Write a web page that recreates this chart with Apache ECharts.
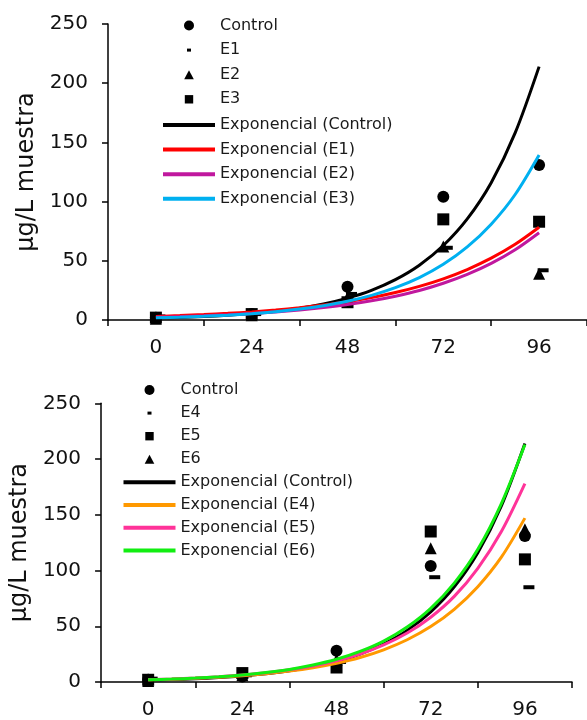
<!DOCTYPE html>
<html>
<head>
<meta charset="utf-8">
<script src="https://cdn.jsdelivr.net/npm/echarts@6/dist/echarts.min.js"></script>
<style>
html,body{margin:0;padding:0;background:#fff;}
#top,#bot{position:absolute;left:0;width:587px;height:360px;}
#top{top:0;}
#bot{top:360px;}
</style>
</head>
<body>
<div id="top"></div>
<div id="bot"></div>
<script>
// ---- data ----
const categories = ['0', '24', '48', '72', '96'];
const yTicks = [0, 50, 100, 150, 200, 250];
const fitHours = [0, 6, 12, 18, 24, 30, 36, 42, 48, 54, 60, 66, 72, 78, 84, 90, 96];

// measured points (top chart)
const controlPts = [2, 5, 28, 104, 131];
const e1Pts = [3, 5, 22, 61, 42];
const e2Pts = [1, 4, 19, 62, 39];
const e3Pts = [2, 5, 15, 85, 83];
// measured points (bottom chart)
const e4Pts = [3, 6, 18, 94, 85];
const e5Pts = [2, 8, 13, 135, 110];
const e6Pts = [1, 6, 20, 120, 137];

// trend curves at fitHours
const fitControl = [1.6, 2.17, 2.95, 4.0, 5.44, 7.39, 10.0, 13.6, 18.5, 25.1, 34.1, 46.3, 62.9, 85.4, 116, 158, 214];
const fitE1 = [3.05, 3.74, 4.58, 5.61, 6.86, 8.41, 10.3, 12.6, 15.4, 18.9, 23.2, 28.4, 34.8, 42.6, 52.2, 63.9, 78.3];
const fitE2 = [2.3, 2.86, 3.55, 4.4, 5.47, 6.8, 8.44, 10.5, 13.0, 16.2, 20.1, 24.9, 31.0, 38.5, 47.8, 59.3, 73.7];
const fitE3 = [1.8, 2.36, 3.1, 4.07, 5.34, 7.01, 9.2, 12.1, 15.8, 20.8, 27.3, 35.8, 47.0, 61.7, 80.9, 106, 139.4];
const fitE4 = [1.92, 2.52, 3.3, 4.33, 5.67, 7.44, 9.76, 12.8, 16.8, 22.0, 28.9, 37.9, 49.7, 65.2, 85.5, 112, 147];
const fitE5 = [2.03, 2.68, 3.55, 4.69, 6.21, 8.21, 10.9, 14.4, 19.0, 25.1, 33.2, 43.9, 58.1, 76.8, 102, 135, 178];
const fitE6 = [1.94, 2.6, 3.49, 4.68, 6.29, 8.44, 11.3, 15.2, 20.4, 27.4, 36.7, 49.3, 66.1, 88.7, 119, 160, 213];

const FONT = 'DejaVu Sans';
const dashIcon = 'path://M0,0M10,10M3,3.5H7V6.5H3Z';
const squareIcon = 'path://M0,0M10,10M0.8,0.8H9.2V9.2H0.8Z';
const triIcon = 'path://M0,0M10,10M5,0.5L9.8,9.5H0.2Z';
const lineIcon = 'path://M0,0H52V4H0Z';

function pairs(ys) { return fitHours.map((h, i) => [h, ys[i]]); }

function scatter(name, data, symbol, size, offset) {
  return {
    type: 'scatter', name: name, data: data, xAxisIndex: 0, yAxisIndex: 0,
    symbol: symbol, symbolSize: size, symbolOffset: offset || [0, 0],
    itemStyle: { color: '#000', opacity: 1 }, z: 2, silent: true
  };
}
function trend(name, ys, color) {
  return {
    type: 'line', name: name, data: pairs(ys), xAxisIndex: 1, yAxisIndex: 0,
    smooth: 0.3, symbol: 'none', lineStyle: { color: color, width: 3 },
    itemStyle: { color: color }, z: 3, silent: true
  };
}

function buildOption(cfg) {
  return {
    animation: false,
    textStyle: { fontFamily: FONT },
    grid: { left: cfg.left, top: cfg.top, width: cfg.width, height: cfg.height },
    xAxis: [
      {
        type: 'category', data: categories, boundaryGap: true,
        axisLine: { onZero: false, lineStyle: { color: '#000', width: 1.5 } },
        axisTick: { show: true, length: 6, lineStyle: { color: '#000', width: 1.5 } },
        axisLabel: { fontSize: 20, color: '#111', margin: 18, fontFamily: FONT },
        splitLine: { show: false }
      },
      { type: 'value', min: -12, max: 108, show: false, axisLine: { onZero: false } }
    ],
    yAxis: [{
      type: 'value', min: yTicks[0], max: yTicks[yTicks.length - 1], interval: 50,
      axisLine: { show: true, onZero: false, lineStyle: { color: '#000', width: 1.5 } },
      axisTick: { show: true, length: 6, lineStyle: { color: '#000', width: 1.5 } },
      axisLabel: { fontSize: 20, color: '#111', margin: 20, fontFamily: FONT },
      splitLine: { show: false },
      name: 'μg/L muestra', nameLocation: 'middle', nameGap: cfg.nameGap,
      nameTextStyle: { fontSize: 24, color: '#111', fontFamily: FONT }
    }],
    legend: [
      {
        orient: 'vertical', left: cfg.legALeft, top: cfg.legATop, itemGap: cfg.legAGap,
        itemWidth: 52, itemHeight: 10, selectedMode: false, padding: 0,
        itemStyle: { opacity: 1 },
        textStyle: { fontSize: 16, lineHeight: 16, color: '#1a1a1a', fontFamily: FONT },
        data: cfg.pointLegend
      },
      {
        orient: 'vertical', left: cfg.legBLeft, top: cfg.legBTop, itemGap: cfg.legBGap,
        itemWidth: 52, itemHeight: 14, selectedMode: false, padding: 0,
        textStyle: { fontSize: 16, lineHeight: 16, color: '#1a1a1a', fontFamily: FONT },
        data: cfg.lineLegend.map(n => ({ name: n, icon: lineIcon }))
      }
    ],
    series: cfg.series
  };
}

const topChart = echarts.init(document.getElementById('top'), null, { renderer: 'canvas' });
topChart.setOption(buildOption({
  left: 108, top: 24, width: 486, height: 296, nameGap: 62,
  legALeft: 184, legBLeft: 163,
  legATop: 17.5, legAGap: 8.6, legBTop: 117, legBGap: 8.6,
  pointLegend: [
    { name: 'Control', icon: 'circle' },
    { name: 'E1', icon: dashIcon },
    { name: 'E2', icon: triIcon },
    { name: 'E3', icon: squareIcon }
  ],
  lineLegend: ['Exponencial (Control)', 'Exponencial (E1)', 'Exponencial (E2)', 'Exponencial (E3)'],
  series: [
    scatter('Control', controlPts, 'circle', 12),
    scatter('E1', e1Pts, 'rect', [11, 4], [4, 0]),
    scatter('E2', e2Pts, 'triangle', 12),
    scatter('E3', e3Pts, 'rect', 12),
    trend('Exponencial (Control)', fitControl, '#000000'),
    trend('Exponencial (E1)', fitE1, '#ff0000'),
    trend('Exponencial (E2)', fitE2, '#c0189e'),
    trend('Exponencial (E3)', fitE3, '#00b0f0')
  ]
}));

const botChart = echarts.init(document.getElementById('bot'), null, { renderer: 'canvas' });
botChart.setOption(buildOption({
  left: 98, top: 43.3, width: 474, height: 279.4, nameGap: 62,
  legALeft: 144.5, legBLeft: 123.5,
  legATop: 22, legAGap: 7.1, legBTop: 114.2, legBGap: 6.8,
  pointLegend: [
    { name: 'Control', icon: 'circle' },
    { name: 'E4', icon: dashIcon },
    { name: 'E5', icon: squareIcon },
    { name: 'E6', icon: triIcon }
  ],
  lineLegend: ['Exponencial (Control)', 'Exponencial (E4)', 'Exponencial (E5)', 'Exponencial (E6)'],
  series: [
    scatter('Control', controlPts, 'circle', 12),
    scatter('E4', e4Pts, 'rect', [11, 4], [4, 0]),
    scatter('E5', e5Pts, 'rect', 12),
    scatter('E6', e6Pts, 'triangle', 12),
    trend('Exponencial (Control)', fitControl, '#000000'),
    trend('Exponencial (E4)', fitE4, '#ff9900'),
    trend('Exponencial (E5)', fitE5, '#ff3399'),
    trend('Exponencial (E6)', fitE6, '#11ee11')
  ]
}));
</script>
</body>
</html>
